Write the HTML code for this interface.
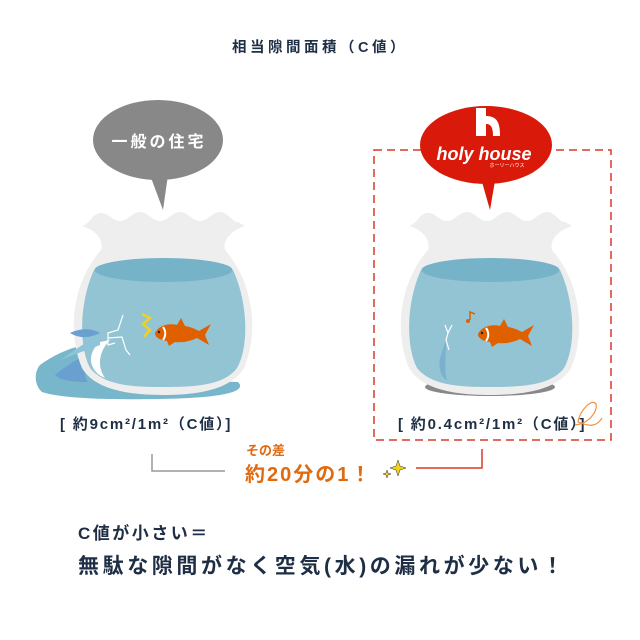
<!DOCTYPE html>
<html><head><meta charset="utf-8"><style>
html,body{margin:0;padding:0;background:#fff;}
svg{display:block;}
text{font-family:"Liberation Sans","Noto Sans CJK JP",sans-serif;}
</style></head><body>
<svg width="640" height="640" viewBox="0 0 640 640" xmlns="http://www.w3.org/2000/svg">
<defs>
<g id="jar">
 <path d="M82,226 C90,224 92,214 100,213 C108,212 112,221 120,221 C128,221 132,212 140,212 C148,212 152,221 160,221 C168,221 172,212 180,212 C188,212 192,221 200,221 C208,221 212,212 220,212 C228,212 232,222 238,222 L245,226 C232,230 222,240 225,250 C252,280 260,330 244,368 C230,392 190,395 163,395 C136,395 96,392 82,368 C66,330 74,280 101,250 C104,240 96,230 82,226 Z" fill="#eeeeee"/>
 <path d="M94,270 C80,300 78,345 90,368 C104,386 135,387 163,387 C192,387 224,386 237,368 C250,345 247,300 233,270 Z" fill="#93c4d4"/>
 <ellipse cx="163.5" cy="270" rx="69" ry="12" fill="#77b3c8"/>
</g>
<g id="fish">
 <path d="M0,0 C4,-8 14,-10 22,-8 L26,-15 L30,-7 C36,-6 40,-4 44,-2 L56,-9 L50,2 L54,12 L42,5 C36,8 28,10 20,9 L14,13 L12,8 C4,7 0,4 0,0 Z" fill="#e06000"/>
 <path d="M8,-6 C11,-2 11,3 8,7" stroke="#fff" stroke-width="2" fill="none"/>
 <circle cx="4" cy="-1" r="1.2" fill="#222"/>
</g>
</defs>

<text x="320" y="52" font-size="14.5" fill="#1e2e45" text-anchor="middle" letter-spacing="3.5" font-weight="bold">相当隙間面積（C値）</text>

<ellipse cx="158" cy="140" rx="65" ry="40" fill="#888888"/>
<path d="M150,175 L163,210 L168,175 Z" fill="#888888"/>
<text x="159" y="147" font-size="16" fill="#fff" text-anchor="middle" letter-spacing="3" font-weight="bold">一般の住宅</text>

<path d="M40,365 C60,350 90,340 105,345 L110,382 C150,386 200,380 238,382 C248,392 222,398 160,399 C100,400 60,398 42,392 C34,385 34,372 40,365 Z" fill="#78b6cc"/>
<path d="M55,375 C70,362 85,355 100,350 C90,360 80,372 88,382 C70,382 60,380 55,375 Z" fill="#6aa0d0"/>
<use href="#jar"/>
<path d="M110,340 C100,350 96,365 105,378 C90,372 85,355 100,342 Z" fill="#fff"/>
<path d="M70,333 C80,328 92,328 100,333 C90,338 80,339 70,333 Z" fill="#6aa0d0"/>
<path d="M100,333 L60,360 L100,345 Z" fill="#8ec4d8"/>
<path d="M123,315 L118,330 L108,333 L108,345 L115,343 M108,338 L122,337 L126,350 L130,355" stroke="#fff" stroke-width="1.2" fill="none"/>
<path d="M142,314 L150,318 L143,324 L150,330 L144,337" stroke="#f0d020" stroke-width="2.5" fill="none"/>
<g transform="translate(155,333)"><use href="#fish"/></g>
<text x="60" y="429" font-size="15" fill="#1e2e45" font-weight="bold" letter-spacing="1.8">[ 約9cm²/1m²（C値）]</text>

<rect x="374" y="150" width="237" height="290" fill="none" stroke="#d93a2a" stroke-width="1.5" stroke-dasharray="8,5"/>
<ellipse cx="486" cy="145" rx="66" ry="39" fill="#d91a0a"/>
<path d="M480,175 L490,210 L496,175 Z" fill="#d91a0a"/>
<rect x="476" y="108" width="10" height="28" fill="#fff"/>
<path d="M486,116 C498,116 500,124 500,136 L493,136 C493,126 490,124 486,124 Z" fill="#fff"/>
<text x="484" y="160" font-size="18" fill="#fff" text-anchor="middle" font-style="italic" font-weight="bold">holy house</text>
<text x="507" y="167" font-size="5" fill="#fff" text-anchor="middle">ホーリーハウス</text>
<ellipse cx="490" cy="387" rx="65" ry="9" fill="#888888"/>
<g transform="translate(327,0)"><use href="#jar"/></g>
<path d="M446,340 C446,358 444,372 447,380 C442,378 438,370 440,358 Z" fill="#7ab0d0"/>
<path d="M445,325 L448,333 L446,340 L449,350 M452,325 L448,333" stroke="#fff" stroke-width="1.2" fill="none"/>
<path d="M470,320 L470,312 L475,314" stroke="#e06000" stroke-width="1.5" fill="none"/><circle cx="468" cy="321" r="2" fill="#e06000"/>
<g transform="translate(478,334)"><use href="#fish"/></g>
<text x="398" y="429" font-size="15" fill="#1e2e45" font-weight="bold" letter-spacing="1.8">[ 約0.4cm²/1m²（C値）]</text>
<path d="M575,425 C588,424 598,412 596,404 C592,398 580,410 578,422 C588,426 596,428 602,418" stroke="#f09040" stroke-width="1.2" fill="none"/>

<path d="M152,454 L152,471 L225,471" stroke="#999" stroke-width="1.5" fill="none"/>
<path d="M482,449 L482,468 L416,468" stroke="#d93a2a" stroke-width="1.5" fill="none"/>
<text x="246" y="455" font-size="13" fill="#e06a10" font-weight="bold">その差</text>
<text x="245" y="481" font-size="20" fill="#e06a10" font-weight="bold" letter-spacing="2">約20分の1！</text>
<path d="M398,460 L400,466 L406,468 L400,470 L398,476 L396,470 L390,468 L396,466 Z" fill="#f0d020" stroke="#333" stroke-width="0.5"/>
<path d="M387,470 L388,473 L391,474 L388,475 L387,478 L386,475 L383,474 L386,473 Z" fill="#f0d020" stroke="#333" stroke-width="0.5"/>

<text x="78" y="539" font-size="17" fill="#1e2e45" font-weight="bold" letter-spacing="2.5">C値が小さい＝</text>
<text x="78" y="573" font-size="21" fill="#1e2e45" font-weight="bold" letter-spacing="3.6">無駄な隙間がなく空気(水)の漏れが少ない！</text>
</svg>
</body></html>
